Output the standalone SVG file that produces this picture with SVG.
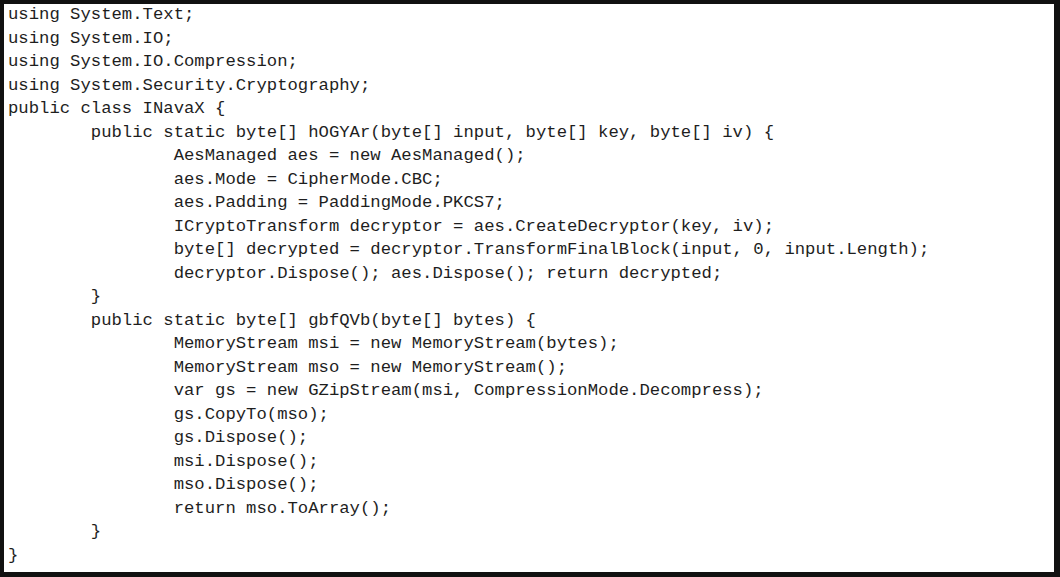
<svg xmlns="http://www.w3.org/2000/svg" width="1060" height="577" viewBox="0 0 1060 577">
<style>text{font-family:"Liberation Mono","DejaVu Sans Mono",monospace;font-size:17.25px;fill:#1e1e1e;white-space:pre}</style>
<rect x="0" y="0" width="1060" height="577" fill="#111"/>
<rect x="4" y="4" width="1050" height="568" fill="#fff"/>
<g id="code">
<text x="8" y="19">using System.Text;</text>
<text x="8" y="42.5">using System.IO;</text>
<text x="8" y="66">using System.IO.Compression;</text>
<text x="8" y="89.5">using System.Security.Cryptography;</text>
<text x="8" y="113">public class INavaX {</text>
<text x="8" y="136.5">        public static byte[] hOGYAr(byte[] input, byte[] key, byte[] iv) {</text>
<text x="8" y="160">                AesManaged aes = new AesManaged();</text>
<text x="8" y="183.5">                aes.Mode = CipherMode.CBC;</text>
<text x="8" y="207">                aes.Padding = PaddingMode.PKCS7;</text>
<text x="8" y="230.5">                ICryptoTransform decryptor = aes.CreateDecryptor(key, iv);</text>
<text x="8" y="254">                byte[] decrypted = decryptor.TransformFinalBlock(input, 0, input.Length);</text>
<text x="8" y="277.5">                decryptor.Dispose(); aes.Dispose(); return decrypted;</text>
<text x="8" y="301">        }</text>
<text x="8" y="324.5">        public static byte[] gbfQVb(byte[] bytes) {</text>
<text x="8" y="348">                MemoryStream msi = new MemoryStream(bytes);</text>
<text x="8" y="371.5">                MemoryStream mso = new MemoryStream();</text>
<text x="8" y="395">                var gs = new GZipStream(msi, CompressionMode.Decompress);</text>
<text x="8" y="418.5">                gs.CopyTo(mso);</text>
<text x="8" y="442">                gs.Dispose();</text>
<text x="8" y="465.5">                msi.Dispose();</text>
<text x="8" y="489">                mso.Dispose();</text>
<text x="8" y="512.5">                return mso.ToArray();</text>
<text x="8" y="536">        }</text>
<text x="8" y="559.5">}</text>
</g>
</svg>
